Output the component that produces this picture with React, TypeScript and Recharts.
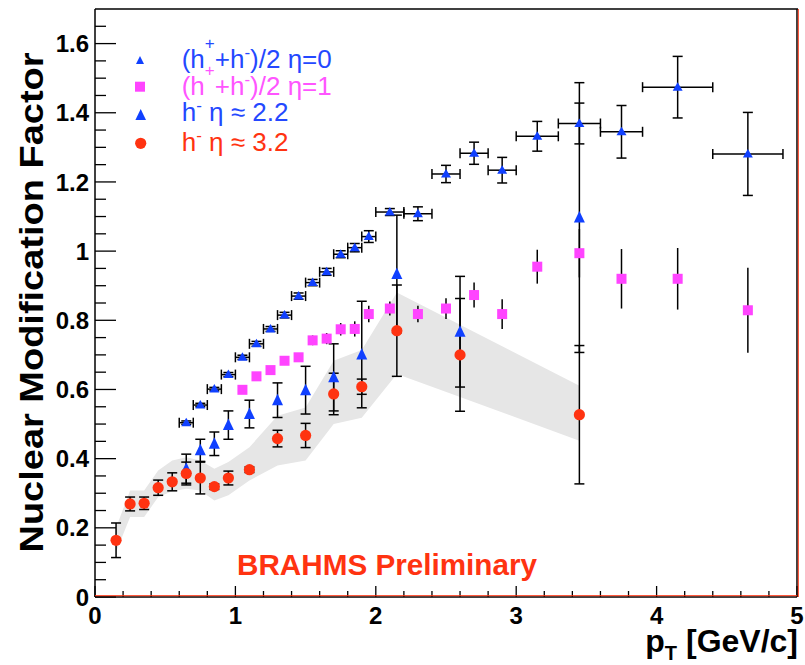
import React from 'react';
import { ComposedChart, Area, Scatter, ErrorBar, XAxis, YAxis } from 'recharts';

// data
const ETA0_X = [0.65, 0.75, 0.85, 0.95, 1.05, 1.15, 1.25, 1.35, 1.45, 1.55, 1.65, 1.75, 1.85, 1.95, 2.1, 2.3, 2.5, 2.7, 2.9, 3.15, 3.45, 3.75, 4.15, 4.65];
const ETA0_Y = [0.504, 0.555, 0.601, 0.643, 0.693, 0.732, 0.775, 0.815, 0.87, 0.909, 0.94, 0.991, 1.01, 1.042, 1.113, 1.108, 1.223, 1.283, 1.234, 1.332, 1.369, 1.345, 1.474, 1.281];
const ETA0_EX = [0.05, 0.05, 0.05, 0.05, 0.05, 0.05, 0.05, 0.05, 0.05, 0.05, 0.05, 0.05, 0.05, 0.05, 0.1, 0.1, 0.1, 0.1, 0.1, 0.15, 0.15, 0.15, 0.25, 0.25];
const ETA0_EY = [0.005, 0.005, 0.005, 0.006, 0.006, 0.007, 0.007, 0.008, 0.009, 0.009, 0.01, 0.01, 0.012, 0.017, 0.01, 0.02, 0.025, 0.032, 0.037, 0.043, 0.059, 0.076, 0.089, 0.12];

const ETA1_X = [1.05, 1.15, 1.25, 1.35, 1.45, 1.55, 1.65, 1.75, 1.85, 1.95, 2.1, 2.3, 2.5, 2.7, 2.9, 3.15, 3.45, 3.75, 4.15, 4.65];
const ETA1_Y = [0.599, 0.638, 0.656, 0.683, 0.693, 0.742, 0.747, 0.774, 0.775, 0.818, 0.834, 0.818, 0.834, 0.873, 0.818, 0.955, 0.994, 0.92, 0.92, 0.829];
const ETA1_EY = [0.01, 0.01, 0.01, 0.012, 0.012, 0.014, 0.016, 0.018, 0.022, 0.024, 0.02, 0.024, 0.03, 0.036, 0.043, 0.049, 0.07, 0.086, 0.089, 0.123];

const ETA22_X = [0.65, 0.75, 0.85, 0.95, 1.1, 1.3, 1.5, 1.7, 1.9, 2.15, 2.6, 3.45];
const ETA22_Y = [0.371, 0.424, 0.443, 0.497, 0.529, 0.569, 0.598, 0.635, 0.701, 0.934, 0.767, 1.097];
const ETA22_EY = [0.042, 0.032, 0.034, 0.041, 0.04, 0.05, 0.069, 0.097, 0.154, 0.17, 0.16, 0.39];

const ETA32_X = [0.15, 0.25, 0.35, 0.45, 0.55, 0.65, 0.75, 0.85, 0.95, 1.1, 1.3, 1.5, 1.7, 1.9, 2.15, 2.6, 3.45];
const ETA32_Y = [0.164, 0.269, 0.271, 0.316, 0.333, 0.357, 0.344, 0.319, 0.344, 0.368, 0.458, 0.467, 0.587, 0.608, 0.77, 0.7, 0.527];
const ETA32_EY = [0.05, 0.02, 0.018, 0.022, 0.026, 0.033, 0.046, 0.008, 0.02, 0.008, 0.024, 0.035, 0.06, 0.022, 0.132, 0.163, 0.2];

// systematic band around the eta=3.2 points
const SYS_LOW = [0.13, 0.231, 0.231, 0.289, 0.306, 0.313, 0.308, 0.279, 0.294, 0.337, 0.38, 0.395, 0.5, 0.518, 0.645, 0.578, 0.452];
const SYS_HIGH = [0.2, 0.308, 0.308, 0.366, 0.395, 0.404, 0.395, 0.371, 0.39, 0.433, 0.524, 0.548, 0.683, 0.714, 0.88, 0.787, 0.611];

const X_MAJOR = [0, 1, 2, 3, 4, 5];
const Y_MAJOR = [0, 0.2, 0.4, 0.6, 0.8, 1, 1.2, 1.4, 1.6];

// minor ticks
const xTicks = Array.from({ length: 26 }, (_, i) => Math.round(i * 2) / 10);
const yTicks = Array.from({ length: 34 }, (_, i) => Math.round(i * 5) / 100);

const bandData = ETA32_X.map((x, i) => ({ x, range: [SYS_LOW[i], SYS_HIGH[i]] }));
const eta0Data = ETA0_X.map((x, i) => ({ x, y: ETA0_Y[i], ex: ETA0_EX[i], ey: ETA0_EY[i] }));
const eta1Data = ETA1_X.map((x, i) => ({ x, y: ETA1_Y[i], ey: ETA1_EY[i] }));
const eta22Data = ETA22_X.map((x, i) => ({ x, y: ETA22_Y[i], ey: ETA22_EY[i] }));
const eta32Data = ETA32_X.map((x, i) => ({ x, y: ETA32_Y[i], ey: ETA32_EY[i] }));

const FONT = '"Liberation Sans", Arial, Helvetica, sans-serif';
const BLUE = '#1040ff';
const PINK = '#ff44ff';
const RED = '#ff3311';

const X0 = 95;
const X1 = 797;
const Y0 = 597;
const Y1 = 9;

const isMajor = (v: number, list: number[]) => list.some((m) => Math.abs(m - v) < 1e-6);

const YTick = (props: any) => {
  const { y, payload } = props;
  const v = payload.value;
  const major = isMajor(v, Y_MAJOR);
  return (
    <g>
      <line x1={X0} x2={X0 + (major ? 21 : 11)} y1={y} y2={y} stroke="#000" strokeWidth={1.3} />
      {major && (
        <text x={X0 - 6} y={y + 8.6} textAnchor="end" fontFamily={FONT} fontWeight="bold" fontSize={24} fill="#000">
          {String(Number(v.toFixed(2)))}
        </text>
      )}
    </g>
  );
};

const XTick = (props: any) => {
  const { x, payload } = props;
  const v = payload.value;
  const major = isMajor(v, X_MAJOR);
  return (
    <g>
      <line x1={x} x2={x} y1={Y0} y2={Y0 - (major ? 11 : 6)} stroke="#000" strokeWidth={1.3} />
      {major && (
        <text x={x} y={624} textAnchor="middle" fontFamily={FONT} fontWeight="bold" fontSize={24} fill="#000">
          {String(v)}
        </text>
      )}
    </g>
  );
};

const smallTriangle = (p: any) => (
  <path d={`M${p.cx},${p.cy - 5} L${p.cx + 5},${p.cy + 3.5} L${p.cx - 5},${p.cy + 3.5} Z`} fill={BLUE} />
);
const bigTriangle = (p: any) => (
  <path d={`M${p.cx},${p.cy - 6.5} L${p.cx + 5.5},${p.cy + 5} L${p.cx - 5.5},${p.cy + 5} Z`} fill={BLUE} />
);
const square = (p: any) => <rect x={p.cx - 5} y={p.cy - 5} width={10} height={10} fill={PINK} />;
const circle = (p: any) => <circle cx={p.cx} cy={p.cy} r={5.6} fill={RED} />;

export default function App() {
  return (
    <div style={{ position: 'absolute', left: 0, top: 0, width: 805, height: 665, background: '#fff' }}>
      <ComposedChart width={805} height={665} data={bandData} margin={{ top: 9, right: 8, bottom: 0, left: 0 }}>
        <XAxis
          dataKey="x"
          type="number"
          domain={[0, 5]}
          ticks={xTicks}
          interval={0}
          height={68}
          tickLine={false}
          tickSize={0}
          axisLine={{ stroke: '#000', strokeWidth: 1.5 }}
          tick={XTick}
          allowDataOverflow
        />
        <YAxis
          type="number"
          domain={[0, 1.7]}
          ticks={yTicks}
          interval={0}
          width={95}
          tickLine={false}
          tickSize={0}
          axisLine={{ stroke: '#000', strokeWidth: 1.5 }}
          tick={YTick}
          allowDataOverflow
        />
        <Area type="linear" dataKey="range" stroke="none" fill="#e6e6e6" fillOpacity={1} isAnimationActive={false} />
        <Scatter data={eta0Data} dataKey="y" shape={smallTriangle} isAnimationActive={false}>
          <ErrorBar dataKey="ex" direction="x" width={5} stroke="#000" strokeWidth={1.5} isAnimationActive={false} />
          <ErrorBar dataKey="ey" direction="y" width={5} stroke="#000" strokeWidth={1.5} isAnimationActive={false} />
        </Scatter>
        <Scatter data={eta1Data} dataKey="y" shape={square} isAnimationActive={false}>
          <ErrorBar dataKey="ey" direction="y" width={0} stroke="#000" strokeWidth={1.5} isAnimationActive={false} />
        </Scatter>
        <Scatter data={eta22Data} dataKey="y" shape={bigTriangle} isAnimationActive={false}>
          <ErrorBar dataKey="ey" direction="y" width={5} stroke="#000" strokeWidth={1.5} isAnimationActive={false} />
        </Scatter>
        <Scatter data={eta32Data} dataKey="y" shape={circle} isAnimationActive={false}>
          <ErrorBar dataKey="ey" direction="y" width={5} stroke="#000" strokeWidth={1.5} isAnimationActive={false} />
        </Scatter>
      </ComposedChart>

      <svg width={805} height={665} style={{ position: 'absolute', left: 0, top: 0, pointerEvents: 'none' }}>
        {/* frame */}
        <line x1={X0} x2={X1 + 1} y1={Y1} y2={Y1} stroke="#000" strokeWidth={1.5} />
        <line x1={X1} x2={X1} y1={Y1} y2={Y0} stroke="#000" strokeWidth={1.5} />
        <line x1={X0} x2={X1} y1={Y0 - 1.3} y2={Y0 - 1.3} stroke={RED} strokeWidth={1} />
        <line x1={X1 + 1.3} x2={X1 + 1.3} y1={Y1} y2={Y0} stroke={RED} strokeWidth={1} />

        {/* axis titles */}
        <text
          transform="translate(43,302.5) rotate(-90)"
          textAnchor="middle"
          fontFamily={FONT}
          fontWeight="bold"
          fontSize={34}
          textLength={500}
          lengthAdjust="spacingAndGlyphs"
          fill="#000"
        >
          Nuclear Modification Factor
        </text>
        <text x={798} y={652} textAnchor="end" fontFamily={FONT} fontWeight="bold" fontSize={32} fill="#000">
          p<tspan fontSize={20} dy={8}>T</tspan>
          <tspan dy={-8}> [GeV/c]</tspan>
        </text>

        <text x={237} y={575} fontFamily={FONT} fontWeight="bold" fontSize={30} textLength={300} lengthAdjust="spacingAndGlyphs" fill={RED}>
          BRAHMS Preliminary
        </text>

        {/* legend */}
        <path d="M140,56 L144,64 L136,64 Z" fill={BLUE} />
        <rect x={135} y={81.7} width={10} height={10} fill={PINK} />
        <path d="M140.7,109 L146,120 L135.4,120 Z" fill={BLUE} />
        <circle cx={140.7} cy={143.3} r={5.6} fill={RED} />

        <text x={181.7} y={68} fontFamily={FONT} fontSize={26} fill="#2448ff">
          (h<tspan fontSize={17} dy={-19}>+</tspan>
          <tspan dy={19}>+h</tspan>
          <tspan fontSize={17} dy={-10}>-</tspan>
          <tspan dy={10}>)/2 η=0</tspan>
        </text>
        <text x={181.7} y={95} fontFamily={FONT} fontSize={26} fill="#ff55ff">
          (h<tspan fontSize={17} dy={-19}>+</tspan>
          <tspan dy={19}>+h</tspan>
          <tspan fontSize={17} dy={-10}>-</tspan>
          <tspan dy={10}>)/2 η=1</tspan>
        </text>
        <text x={181.7} y={121} fontFamily={FONT} fontSize={26} fill="#2448ff">
          h<tspan fontSize={17} dy={-10}>-</tspan>
          <tspan dy={10}> η ≈ 2.2</tspan>
        </text>
        <text x={181.7} y={150.5} fontFamily={FONT} fontSize={26} fill={RED}>
          h<tspan fontSize={17} dy={-10}>-</tspan>
          <tspan dy={10}> η ≈ 3.2</tspan>
        </text>
      </svg>
    </div>
  );
}
